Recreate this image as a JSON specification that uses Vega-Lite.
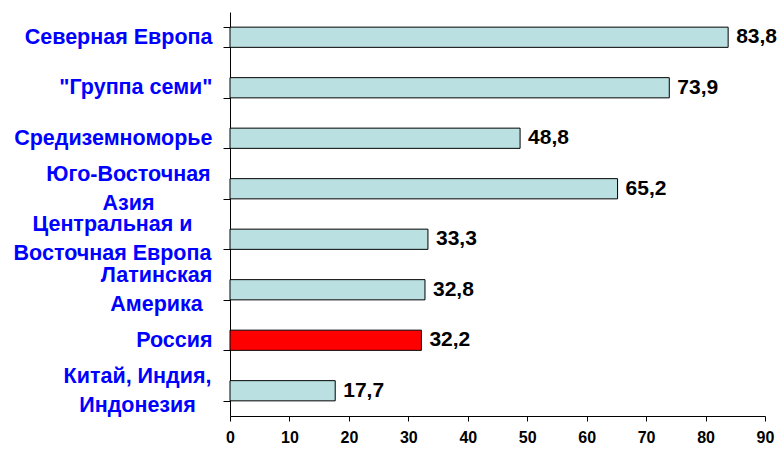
{
  "$schema": "https://vega.github.io/schema/vega-lite/v6.json",
  "width": 535,
  "height": 404,
  "autosize": {"type": "none"},
  "padding": {"left": 230, "top": 12, "right": 16, "bottom": 38},
  "background": "white",
  "data": {
    "values": [
      {"region": "Северная Европа", "value": 83.8, "text": "83,8"},
      {"region": "\"Группа семи\"", "value": 73.9, "text": "73,9"},
      {"region": "Средиземноморье", "value": 48.8, "text": "48,8"},
      {"region": "Юго-Восточная|Азия", "value": 65.2, "text": "65,2"},
      {"region": "Центральная и|Восточная Европа", "value": 33.3, "text": "33,3"},
      {"region": "Латинская|Америка ", "value": 32.8, "text": "32,8"},
      {"region": "Россия", "value": 32.2, "text": "32,2"},
      {"region": "Китай, Индия,|Индонезия", "value": 17.7, "text": "17,7"}
    ]
  },
  "encoding": {
    "y": {
      "field": "region",
      "type": "nominal",
      "sort": null,
      "scale": {"paddingInner": 0.6, "paddingOuter": 0.3},
      "axis": {
        "title": null,
        "tickBand": "extent",
        "labelExpr": "isString(datum.value) ? split(datum.value, '|') : ''",
        "labelFont": "Liberation Sans",
        "labelFontSize": 21.5,
        "labelFontWeight": "bold",
        "labelColor": "#0000FF",
        "labelLineHeight": 29,
        "labelLimit": 300,
        "labelAlign": {
          "condition": {"test": "isString(datum.value) && test(/[|]/, datum.value)", "value": "center"},
          "value": "right"
        },
        "labelOffset": {
          "condition": {"test": "isString(datum.value) && test(/[|]/, datum.value)", "value": -14.5},
          "value": 0
        },
        "labelPadding": {
          "condition": [
            {"test": "datum.value == 'Юго-Восточная|Азия'", "value": 95},
            {"test": "datum.value == 'Центральная и|Восточная Европа'", "value": 111},
            {"test": "datum.value == 'Латинская|Америка '", "value": 67},
            {"test": "datum.value == 'Китай, Индия,|Индонезия'", "value": 86}
          ],
          "value": 11
        },
        "tickSize": 7,
        "tickColor": "black",
        "domainColor": "black",
        "grid": false
      }
    }
  },
  "layer": [
    {
      "mark": {"type": "bar", "stroke": "black", "strokeWidth": 1},
      "encoding": {
        "x": {
          "field": "value",
          "type": "quantitative",
          "scale": {"domain": [0, 90], "nice": false},
          "axis": {
            "title": null,
            "values": [0, 10, 20, 30, 40, 50, 60, 70, 80, 90],
            "grid": false,
            "tickSize": 5,
            "tickColor": "black",
            "domainColor": "black",
            "labelFont": "Liberation Sans",
            "labelFontSize": 16,
            "labelFontWeight": "bold",
            "labelColor": "black",
            "labelPadding": 8,
            "labelFlush": false
          }
        },
        "color": {
          "condition": {"test": "datum.region == 'Россия'", "value": "#FF0000"},
          "value": "#BAE0E1"
        }
      }
    },
    {
      "mark": {
        "type": "text",
        "align": "left",
        "baseline": "middle",
        "dx": 8,
        "font": "Liberation Sans",
        "fontSize": 21,
        "fontWeight": "bold",
        "color": "black"
      },
      "encoding": {
        "x": {"field": "value", "type": "quantitative"},
        "text": {"field": "text", "type": "nominal"}
      }
    }
  ],
  "config": {"view": {"stroke": null}}
}
